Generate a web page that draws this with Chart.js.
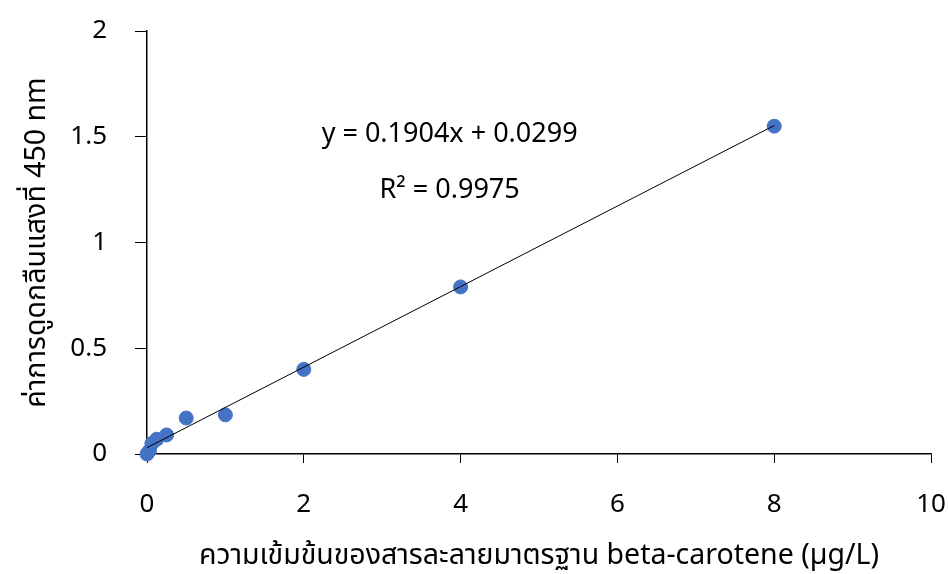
<!DOCTYPE html>
<html>
<head>
<meta charset="utf-8">
<script src="https://cdn.jsdelivr.net/npm/chart.js@4/dist/chart.umd.min.js"></script>
<style>
  body { margin: 0; background: #fff; }
  #wrap { width: 948px; height: 574px; }
</style>
</head>
<body>
<div id="wrap"><canvas id="scatter-chart"></canvas></div>
<script>
// standard concentrations (µg/L) and absorbance at 450 nm
const concentrations = [0, 0.03125, 0.0625, 0.125, 0.25, 0.5, 1, 2, 4, 8]
const absorbance = [0, 0.015, 0.05, 0.07, 0.09, 0.17, 0.185, 0.40, 0.79, 1.55]
const xTicks = [0, 2, 4, 6, 8, 10]
const yTicks = [0, 0.5, 1, 1.5, 2]

// linear trendline as given in the chart
const slope = 0.1904
const intercept = 0.0299
const equationText = "y = 0.1904x + 0.0299"
const rSquaredText = "R² = 0.9975"

const fontFamily = "'Noto Sans', 'Noto Sans Thai', sans-serif"

const points = concentrations.map((x, i) => ({ x: x, y: absorbance[i] }))
const xMin = concentrations[0]
const xMax = concentrations[concentrations.length - 1]
const trendline = [
  { x: xMin, y: slope * xMin + intercept },
  { x: xMax, y: slope * xMax + intercept },
]

// draws the equation + R² text inside the plot
const equationLabel = {
  id: "equationLabel",
  afterDatasetsDraw(chart) {
    let ctx = chart.ctx
    let xs = chart.scales.x
    let ys = chart.scales.y
    ctx.save()
    ctx.fillStyle = "#000"
    ctx.font = "27px " + fontFamily
    ctx.textAlign = "center"
    ctx.textBaseline = "middle"
    ctx.fillText(equationText, xs.getPixelForValue(3.86), ys.getPixelForValue(1.51))
    ctx.fillText(rSquaredText, xs.getPixelForValue(3.86), ys.getPixelForValue(1.245))
    ctx.restore()
  },
}

let ctx = document.getElementById("scatter-chart").getContext("2d")
let chart = new Chart(ctx, {
  type: "scatter",
  data: {
    datasets: [
      {
        label: "Absorbance",
        data: points,
        backgroundColor: "#4472C4",
        borderColor: "#4472C4",
        pointRadius: 7,
        clip: false,
        order: 2,
      },
      {
        type: "line",
        label: "Linear",
        data: trendline,
        borderColor: "#000",
        borderWidth: 1,
        pointRadius: 0,
        fill: false,
        order: 1,
      },
    ],
  },
  options: {
    responsive: true,
    maintainAspectRatio: false,
    animation: false,
    layout: {
      padding: { left: 20, right: 17, top: 31, bottom: 1 },
    },
    plugins: {
      legend: { display: false },
      tooltip: { enabled: false },
    },
    scales: {
      x: {
        type: "linear",
        min: 0,
        max: 10,
        afterBuildTicks: (axis) => {
          axis.ticks = xTicks.map((v) => ({ value: v }))
        },
        afterFit: (axis) => {
          axis.height = 119
          axis.paddingLeft = 0
          axis.paddingRight = 0
        },
        grid: {
          drawOnChartArea: false,
          drawTicks: true,
          tickLength: 9,
          color: "#000",
        },
        border: { display: true, color: "#000", width: 1.5 },
        ticks: {
          color: "#000",
          font: { family: fontFamily, size: 26 },
          padding: 26,
          maxRotation: 0,
          callback: (v) => String(v),
        },
        title: {
          display: true,
          text: "ความเข้มข้นของสารละลายมาตรฐาน beta-carotene (µg/L)",
          color: "#000",
          font: { family: fontFamily, size: 28.5 },
          padding: 0,
        },
      },
      y: {
        type: "linear",
        min: 0,
        max: 2,
        afterBuildTicks: (axis) => {
          axis.ticks = yTicks.map((v) => ({ value: v }))
        },
        afterFit: (axis) => {
          axis.width = 127
          axis.paddingTop = 0
          axis.paddingBottom = 0
        },
        grid: {
          drawOnChartArea: false,
          drawTicks: true,
          tickLength: 12,
          color: "#000",
        },
        border: { display: true, color: "#000", width: 1.5 },
        ticks: {
          color: "#000",
          font: { family: fontFamily, size: 26 },
          padding: 28,
          callback: (v) => String(v),
        },
        title: {
          display: true,
          text: "ค่าการดูดกลืนแสงที่ 450 nm",
          color: "#000",
          font: { family: fontFamily, size: 28.5 },
          padding: 0,
        },
      },
    },
  },
  plugins: [equationLabel],
})
</script>
</body>
</html>
